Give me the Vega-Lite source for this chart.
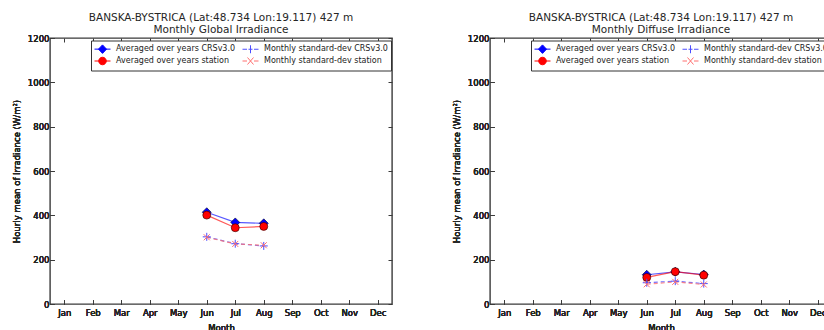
{
  "$schema": "https://vega.github.io/schema/vega-lite/v6.json",
  "padding": {"left": 11, "top": 11, "right": 0, "bottom": 0},
  "datasets": {
    "global": [
      {"month": 6, "series": "Averaged over years CRSv3.0", "value": 414},
      {"month": 7, "series": "Averaged over years CRSv3.0", "value": 368},
      {"month": 8, "series": "Averaged over years CRSv3.0", "value": 364},
      {"month": 6, "series": "Averaged over years station", "value": 401},
      {"month": 7, "series": "Averaged over years station", "value": 344},
      {"month": 8, "series": "Averaged over years station", "value": 350},
      {"month": 6, "series": "Monthly standard-dev CRSv3.0", "value": 303},
      {"month": 7, "series": "Monthly standard-dev CRSv3.0", "value": 272},
      {"month": 8, "series": "Monthly standard-dev CRSv3.0", "value": 262},
      {"month": 6, "series": "Monthly standard-dev station", "value": 301},
      {"month": 7, "series": "Monthly standard-dev station", "value": 271},
      {"month": 8, "series": "Monthly standard-dev station", "value": 265}
    ],
    "diffuse": [
      {"month": 6, "series": "Averaged over years CRSv3.0", "value": 132},
      {"month": 7, "series": "Averaged over years CRSv3.0", "value": 145},
      {"month": 8, "series": "Averaged over years CRSv3.0", "value": 133},
      {"month": 6, "series": "Averaged over years station", "value": 120},
      {"month": 7, "series": "Averaged over years station", "value": 146},
      {"month": 8, "series": "Averaged over years station", "value": 130},
      {"month": 6, "series": "Monthly standard-dev CRSv3.0", "value": 96},
      {"month": 7, "series": "Monthly standard-dev CRSv3.0", "value": 103},
      {"month": 8, "series": "Monthly standard-dev CRSv3.0", "value": 92},
      {"month": 6, "series": "Monthly standard-dev station", "value": 89},
      {"month": 7, "series": "Monthly standard-dev station", "value": 100},
      {"month": 8, "series": "Monthly standard-dev station", "value": 88}
    ]
  },
  "hconcat": [
    {
      "width": 342, "height": 266,
      "title": {"text": ["BANSKA-BYSTRICA (Lat:48.734 Lon:19.117) 427 m", "Monthly Global Irradiance"]},
      "data": {"name": "global"},
      "encoding": {
        "x": {"field": "month", "type": "quantitative", "scale": {"domain": [0.5, 12.5], "nice": false, "zero": false},
          "axis": {"orient": "bottom", "values": [1,2,3,4,5,6,7,8,9,10,11,12], "labelExpr": "['Jan','Feb','Mar','Apr','May','Jun','Jul','Aug','Sep','Oct','Nov','Dec'][datum.value-1]", "title": "Month", "tickSize": -4, "labelPadding": 8, "titlePadding": 7, "labelFlush": false, "labelOverlap": false}},
        "y": {"field": "value", "type": "quantitative", "scale": {"domain": [0, 1200], "nice": false},
          "axis": {"orient": "left", "values": [0,200,400,600,800,1000,1200], "format": "d", "title": "Hourly mean of Irradiance (W/m²)", "tickSize": -4, "labelPadding": 5, "titlePadding": 6, "labelFlush": false, "labelOverlap": false}},
        "color": {"field": "series", "type": "nominal",
          "scale": {"domain": ["Averaged over years CRSv3.0", "Averaged over years station", "Monthly standard-dev CRSv3.0", "Monthly standard-dev station"], "range": ["#0000ff", "#ff0000", "#4d4dff", "#ff6f6f"]},
          "legend": {"orient": "none", "legendX": 41, "legendY": 2.5, "columns": 2, "title": null, "padding": 3, "fillColor": "white", "strokeColor": "#333333", "labelFontSize": 8, "labelFont": "DejaVu Sans", "labelColor": "#222222", "symbolSize": 100, "labelOffset": 11, "columnPadding": 4, "rowPadding": -3, "labelLimit": 300, "symbolOpacity": 1, "symbolStrokeWidth": 1,
            "encoding": {"symbols": {
              "shape": {"value": {"expr": "datum.value === 'Averaged over years CRSv3.0' ? 'M-1,0H2.2M0.6,-0.85L1.4,0L0.6,0.85L-0.2,0Z' : datum.value === 'Averaged over years station' ? 'M-1,0H2.2M1.35,0A0.75,0.75,0,1,1,-0.15,0A0.75,0.75,0,1,1,1.35,0Z' : datum.value === 'Monthly standard-dev CRSv3.0' ? 'M-1,0H-0.1M0.2,0H1M1.3,0H2.2M0.6,-0.8V0.8' : 'M-1,0H-0.1M1.3,0H2.2M0,-0.7L1.2,0.7M0,0.7L1.2,-0.7'"}},
              "fill": {"value": {"expr": "datum.value === 'Averaged over years CRSv3.0' ? '#0000ff' : datum.value === 'Averaged over years station' ? '#ff0000' : 'transparent'"}},
              "stroke": {"value": {"expr": "datum.value === 'Averaged over years CRSv3.0' ? '#0000ff' : datum.value === 'Averaged over years station' ? '#ff2020' : datum.value === 'Monthly standard-dev CRSv3.0' ? '#5555ff' : '#ff7777'"}},
              "strokeWidth": {"value": 1},
              "opacity": {"value": 1}
            }}}
        }
      },
      "layer": [
        {
          "transform": [{"filter": {"field": "series", "oneOf": ["Averaged over years CRSv3.0", "Averaged over years station"]}}],
          "mark": {"type": "line", "strokeWidth": 1.2, "opacity": 0.65},
          "encoding": {
            "x": {"field": "month", "type": "quantitative", "scale": {"domain": [0.5, 12.5], "nice": false, "zero": false},
              "axis": {"orient": "top", "values": [1,2,3,4,5,6,7,8,9,10,11,12], "labels": false, "title": null, "tickSize": -4, "domain": false}},
            "y": {"field": "value", "type": "quantitative", "scale": {"domain": [0, 1200], "nice": false},
              "axis": {"orient": "right", "values": [0,200,400,600,800,1000,1200], "labels": false, "title": null, "tickSize": -4, "domain": false}}
          }
        },
        {
          "transform": [{"filter": {"field": "series", "oneOf": ["Monthly standard-dev CRSv3.0", "Monthly standard-dev station"]}}],
          "mark": {"type": "line", "strokeWidth": 1.2, "opacity": 0.8, "strokeDash": [4, 3]}
        },
        {
          "transform": [{"filter": {"field": "series", "equal": "Averaged over years CRSv3.0"}}],
          "mark": {"type": "point", "shape": "diamond", "filled": true, "stroke": "#000022", "strokeWidth": 0.6, "opacity": 1, "size": 81}
        },
        {
          "transform": [{"filter": {"field": "series", "equal": "Averaged over years station"}}],
          "mark": {"type": "point", "shape": "circle", "filled": true, "stroke": "#220000", "strokeWidth": 0.6, "opacity": 1, "size": 64}
        },
        {
          "transform": [{"filter": {"field": "series", "equal": "Monthly standard-dev CRSv3.0"}}],
          "mark": {"type": "point", "shape": "M-1,0H1M0,-1V1", "filled": false, "strokeWidth": 1, "opacity": 1, "size": 64}
        },
        {
          "transform": [{"filter": {"field": "series", "equal": "Monthly standard-dev station"}}],
          "mark": {"type": "point", "shape": "M-0.75,-0.75L0.75,0.75M-0.75,0.75L0.75,-0.75", "filled": false, "strokeWidth": 1, "opacity": 1, "size": 64}
        }
      ]
    },
    {
      "width": 342, "height": 266,
      "title": {"text": ["BANSKA-BYSTRICA (Lat:48.734 Lon:19.117) 427 m", "Monthly Diffuse Irradiance"]},
      "data": {"name": "diffuse"},
      "encoding": {
        "x": {"field": "month", "type": "quantitative", "scale": {"domain": [0.5, 12.5], "nice": false, "zero": false},
          "axis": {"orient": "bottom", "values": [1,2,3,4,5,6,7,8,9,10,11,12], "labelExpr": "['Jan','Feb','Mar','Apr','May','Jun','Jul','Aug','Sep','Oct','Nov','Dec'][datum.value-1]", "title": "Month", "tickSize": -4, "labelPadding": 8, "titlePadding": 7, "labelFlush": false, "labelOverlap": false}},
        "y": {"field": "value", "type": "quantitative", "scale": {"domain": [0, 1200], "nice": false},
          "axis": {"orient": "left", "values": [0,200,400,600,800,1000,1200], "format": "d", "title": "Hourly mean of Irradiance (W/m²)", "tickSize": -4, "labelPadding": 5, "titlePadding": 6, "labelFlush": false, "labelOverlap": false}},
        "color": {"field": "series", "type": "nominal",
          "scale": {"domain": ["Averaged over years CRSv3.0", "Averaged over years station", "Monthly standard-dev CRSv3.0", "Monthly standard-dev station"], "range": ["#0000ff", "#ff0000", "#4d4dff", "#ff6f6f"]},
          "legend": {"orient": "none", "legendX": 41, "legendY": 2.5, "columns": 2, "title": null, "padding": 3, "fillColor": "white", "strokeColor": "#333333", "labelFontSize": 8, "labelFont": "DejaVu Sans", "labelColor": "#222222", "symbolSize": 100, "labelOffset": 11, "columnPadding": 4, "rowPadding": -3, "labelLimit": 300, "symbolOpacity": 1, "symbolStrokeWidth": 1,
            "encoding": {"symbols": {
              "shape": {"value": {"expr": "datum.value === 'Averaged over years CRSv3.0' ? 'M-1,0H2.2M0.6,-0.85L1.4,0L0.6,0.85L-0.2,0Z' : datum.value === 'Averaged over years station' ? 'M-1,0H2.2M1.35,0A0.75,0.75,0,1,1,-0.15,0A0.75,0.75,0,1,1,1.35,0Z' : datum.value === 'Monthly standard-dev CRSv3.0' ? 'M-1,0H-0.1M0.2,0H1M1.3,0H2.2M0.6,-0.8V0.8' : 'M-1,0H-0.1M1.3,0H2.2M0,-0.7L1.2,0.7M0,0.7L1.2,-0.7'"}},
              "fill": {"value": {"expr": "datum.value === 'Averaged over years CRSv3.0' ? '#0000ff' : datum.value === 'Averaged over years station' ? '#ff0000' : 'transparent'"}},
              "stroke": {"value": {"expr": "datum.value === 'Averaged over years CRSv3.0' ? '#0000ff' : datum.value === 'Averaged over years station' ? '#ff2020' : datum.value === 'Monthly standard-dev CRSv3.0' ? '#5555ff' : '#ff7777'"}},
              "strokeWidth": {"value": 1},
              "opacity": {"value": 1}
            }}}
        }
      },
      "layer": [
        {
          "transform": [{"filter": {"field": "series", "oneOf": ["Averaged over years CRSv3.0", "Averaged over years station"]}}],
          "mark": {"type": "line", "strokeWidth": 1.2, "opacity": 0.65},
          "encoding": {
            "x": {"field": "month", "type": "quantitative", "scale": {"domain": [0.5, 12.5], "nice": false, "zero": false},
              "axis": {"orient": "top", "values": [1,2,3,4,5,6,7,8,9,10,11,12], "labels": false, "title": null, "tickSize": -4, "domain": false}},
            "y": {"field": "value", "type": "quantitative", "scale": {"domain": [0, 1200], "nice": false},
              "axis": {"orient": "right", "values": [0,200,400,600,800,1000,1200], "labels": false, "title": null, "tickSize": -4, "domain": false}}
          }
        },
        {
          "transform": [{"filter": {"field": "series", "oneOf": ["Monthly standard-dev CRSv3.0", "Monthly standard-dev station"]}}],
          "mark": {"type": "line", "strokeWidth": 1.2, "opacity": 0.8, "strokeDash": [4, 3]}
        },
        {
          "transform": [{"filter": {"field": "series", "equal": "Averaged over years CRSv3.0"}}],
          "mark": {"type": "point", "shape": "diamond", "filled": true, "stroke": "#000022", "strokeWidth": 0.6, "opacity": 1, "size": 81}
        },
        {
          "transform": [{"filter": {"field": "series", "equal": "Averaged over years station"}}],
          "mark": {"type": "point", "shape": "circle", "filled": true, "stroke": "#220000", "strokeWidth": 0.6, "opacity": 1, "size": 64}
        },
        {
          "transform": [{"filter": {"field": "series", "equal": "Monthly standard-dev CRSv3.0"}}],
          "mark": {"type": "point", "shape": "M-1,0H1M0,-1V1", "filled": false, "strokeWidth": 1, "opacity": 1, "size": 64}
        },
        {
          "transform": [{"filter": {"field": "series", "equal": "Monthly standard-dev station"}}],
          "mark": {"type": "point", "shape": "M-0.75,-0.75L0.75,0.75M-0.75,0.75L0.75,-0.75", "filled": false, "strokeWidth": 1, "opacity": 1, "size": 64}
        }
      ]
    }
  ],
  "spacing": 98,
  "bounds": "flush",
  "resolve": {"scale": {"color": "independent"}, "legend": {"color": "independent"}},
  "config": {
    "font": "DejaVu Sans",
    "background": "white",
    "view": {"stroke": "#3a3a3a", "strokeWidth": 1.4},
    "title": {"font": "DejaVu Sans", "fontSize": 10.5, "fontWeight": "normal", "color": "#262626", "offset": -1, "lineHeight": 12, "anchor": "middle"},
    "axis": {"domain": false, "grid": false, "labelFont": "DejaVu Sans", "labelFontSize": 8.5, "labelColor": "#262626", "titleFont": "DejaVu Sans", "titleFontSize": 8.5, "titleFontWeight": "normal", "titleColor": "#262626", "tickColor": "#3a3a3a", "tickWidth": 1}
  }
}
